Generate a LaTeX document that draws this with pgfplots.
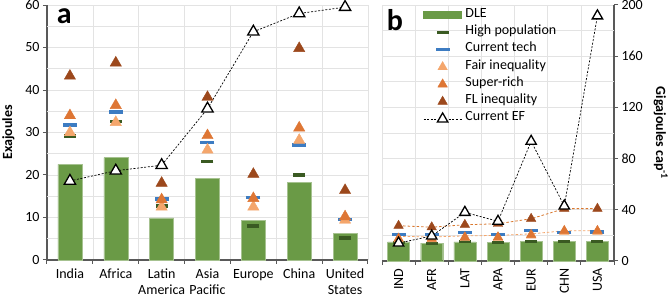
\documentclass[border=0pt]{standalone}
\usepackage{fontspec}
\setmainfont{Carlito}
\usepackage{pgfplots}
\pgfplotsset{compat=1.18}
\definecolor{dlegreen}{HTML}{6A9A46}
\definecolor{hpgreen}{HTML}{3A5A22}
\definecolor{techblue}{HTML}{3D7CC2}
\definecolor{fairor}{HTML}{F4A66C}
\definecolor{superor}{HTML}{DE7634}
\definecolor{flbrown}{HTML}{9C481C}
\definecolor{lineor}{HTML}{D9782F}
\definecolor{axisgray}{HTML}{595959}
\definecolor{gridgray}{HTML}{E3E3E3}
\newcommand{\fs}{\fontsize{14}{16}\selectfont}
\pgfplotsset{
  common/.style={
    scale only axis, anchor=south west,
    xmin=-0.5, xmax=6.5,
    axis line style={-, draw=axisgray, line width=1.1pt},
    xtick={0,...,6},
    major x tick style={draw=none},
    minor xtick={-0.5,0.5,...,6.5},
    xminorgrids=true, ymajorgrids=true,
    grid style={draw=gridgray, line width=0.6pt},
    minor grid style={draw=gridgray, line width=0.6pt},
    tick align=outside,
    tick style={draw=axisgray, line width=1pt},
    major tick length=4pt, minor tick length=4pt,
    extra y tick style={major tick length=0pt, grid=major, tick style={draw=none}},
    extra y tick labels={},
    ticklabel style={font=\fs},
    /pgf/number format/assume math mode=true,
    label style={font=\fs\bfseries},
    clip=false,
  },
  legend image code/.code={\draw[mark repeat=2,mark phase=2,#1] plot coordinates {(0pt,0pt)(19pt,0pt)(38pt,0pt)};},
}
\begin{document}
\begin{tikzpicture}[x=1pt,y=1pt]
% ---------------- panel a ----------------
\begin{axis}[common,
  at={(47pt,39pt)}, width=321pt, height=255pt,
  ymin=0, ymax=60,
  axis x line*=bottom, axis y line*=left,
  xticklabels={India,Africa,{Latin\\America},{Asia\\Pacific},Europe,China,{United\\States}},
  xticklabel style={align=center, yshift=-1.5pt},
  ytick={0,10,...,60},
  extra y ticks={5,15,...,55},
  ylabel={Exajoules},
]
\addplot[ybar, bar width=24pt, fill=dlegreen, draw=dlegreen!60!white, line width=0.4pt]
  coordinates {(0,22.5)(1,24.1)(2,9.9)(3,19.2)(4,9.4)(5,18.2)(6,6.3)};
\addplot[only marks, mark=-, mark size=6pt, mark options={draw=hpgreen, line width=3.6pt, line cap=butt}]
  coordinates {(0,29.2)(1,32.6)(2,12.7)(3,23.2)(4,8.0)(5,20.0)(6,5.2)};
\addplot[only marks, mark=-, mark size=7pt, mark options={draw=techblue, line width=3.6pt, line cap=butt}]
  coordinates {(0,31.8)(1,34.8)(2,14.3)(3,27.6)(4,14.7)(5,27.0)(6,9.5)};
\addplot[only marks, color=fairor, mark=triangle*, mark size=6.5pt]
  coordinates {(0,30.0)(1,32.4)(2,12.5)(3,25.9)(4,12.5)(5,28.2)(6,9.4)};
\addplot[only marks, color=superor, mark=triangle*, mark size=6.5pt]
  coordinates {(0,34.0)(1,36.4)(2,14.2)(3,29.3)(4,14.5)(5,31.1)(6,10.2)};
\addplot[only marks, color=flbrown, mark=triangle*, mark size=6.5pt]
  coordinates {(0,43.3)(1,46.4)(2,18.1)(3,38.3)(4,20.2)(5,49.8)(6,16.4)};
\addplot[black, line width=0.7pt, dash pattern=on 2pt off 1.6pt, mark=triangle*, mark size=6.5pt,
  mark options={solid, fill=white, draw=black, line width=1.3pt}]
  coordinates {(0,18.6)(1,21.0)(2,22.3)(3,35.6)(4,53.7)(5,58.0)(6,59.5)};
\node[font=\fontsize{30}{30}\selectfont\bfseries, anchor=north west, inner sep=0pt] at (rel axis cs:0.03,0.985) {a};
\end{axis}
% ---------------- panel b ----------------
\begin{axis}[common,
  at={(382pt,38pt)}, width=232pt, height=256pt,
  ymin=0, ymax=200,
  axis x line*=bottom, axis y line*=right,
  xticklabels={IND,AFR,LAT,APA,EUR,CHN,USA},
  xticklabel style={rotate=90, anchor=east},
  ytick={0,40,...,200},
  extra y ticks={20,60,...,180},
  ylabel={Gigajoules cap\textsuperscript{-1}},
  ylabel style={rotate=180},
  legend style={at={(rel axis cs:0.177,0.995)}, anchor=north west, draw=none, fill=none,
    font=\fs, row sep=0pt, inner sep=0pt,
    nodes={inner xsep=3.5pt, inner ysep=0pt, text height=10.7pt, text depth=6.6pt}},
  legend cell align=left,
  legend columns=1,
]
\addplot[ybar, bar width=22pt, fill=dlegreen, draw=dlegreen!60!white, line width=0.4pt,
  legend image code/.code={\fill[dlegreen] (0pt,-3.5pt) rectangle (38pt,3.5pt);}]
  coordinates {(0,15.0)(1,14.0)(2,15.0)(3,14.8)(4,15.5)(5,15.6)(6,15.5)};
\addlegendentry{DLE}
\addplot[only marks, mark=-, mark size=6pt, mark options={draw=hpgreen, line width=3.4pt, line cap=butt}]
  coordinates {(0,14.5)(1,13.8)(2,15.0)(3,14.5)(4,15.0)(5,15.2)(6,15.0)};
\addlegendentry{High population}
\addplot[forget plot, lineor, line width=0.8pt, dash pattern=on 2.5pt off 2pt]
  coordinates {(0,27.6)(1,26.4)(2,28.3)(3,29.1)(4,33.0)(5,40.9)(6,40.9)};
\addplot[forget plot, fairor, line width=0.8pt, dash pattern=on 2.5pt off 2pt]
  coordinates {(0,19.3)(1,18.8)(2,19.6)(3,20.0)(4,21.2)(5,23.6)(6,23.6)};
\addplot[only marks, mark=-, mark size=7pt, mark options={draw=techblue, line width=3.4pt, line cap=butt}]
  coordinates {(0,20.8)(1,20.5)(2,22.2)(3,20.8)(4,23.6)(5,22.4)(6,22.6)};
\addlegendentry{Current tech}
\addplot[only marks, color=fairor, mark=triangle*, mark size=5.5pt]
  coordinates {(0,17.0)(1,17.0)(2,18.0)(3,18.0)(4,20.0)(5,23.0)(6,23.0)};
\addlegendentry{Fair inequality}
\addplot[only marks, color=superor, mark=triangle*, mark size=5.5pt]
  coordinates {(0,17.6)(1,17.6)(2,18.6)(3,18.6)(4,20.5)(5,23.6)(6,23.6)};
\addlegendentry{Super-rich}
\addplot[only marks, color=flbrown, mark=triangle*, mark size=5.5pt]
  coordinates {(0,27.6)(1,26.4)(2,28.3)(3,29.1)(4,33.0)(5,40.9)(6,40.9)};
\addlegendentry{FL inequality}
\addplot[black, line width=0.7pt, dash pattern=on 2pt off 1.6pt, mark=triangle*, mark size=6pt,
  mark options={solid, fill=white, draw=black, line width=1.3pt}]
  coordinates {(0,14.0)(1,19.5)(2,38.0)(3,31.0)(4,93.5)(5,43.0)(6,191.5)};
\addlegendentry{Current EF}
\node[font=\fontsize{30}{30}\selectfont\bfseries, anchor=north west, inner sep=0pt] at (rel axis cs:0.02,0.985) {b};
\end{axis}
\pgfresetboundingbox
\useasboundingbox (0,0) rectangle (671,299);
\end{tikzpicture}
\end{document}
